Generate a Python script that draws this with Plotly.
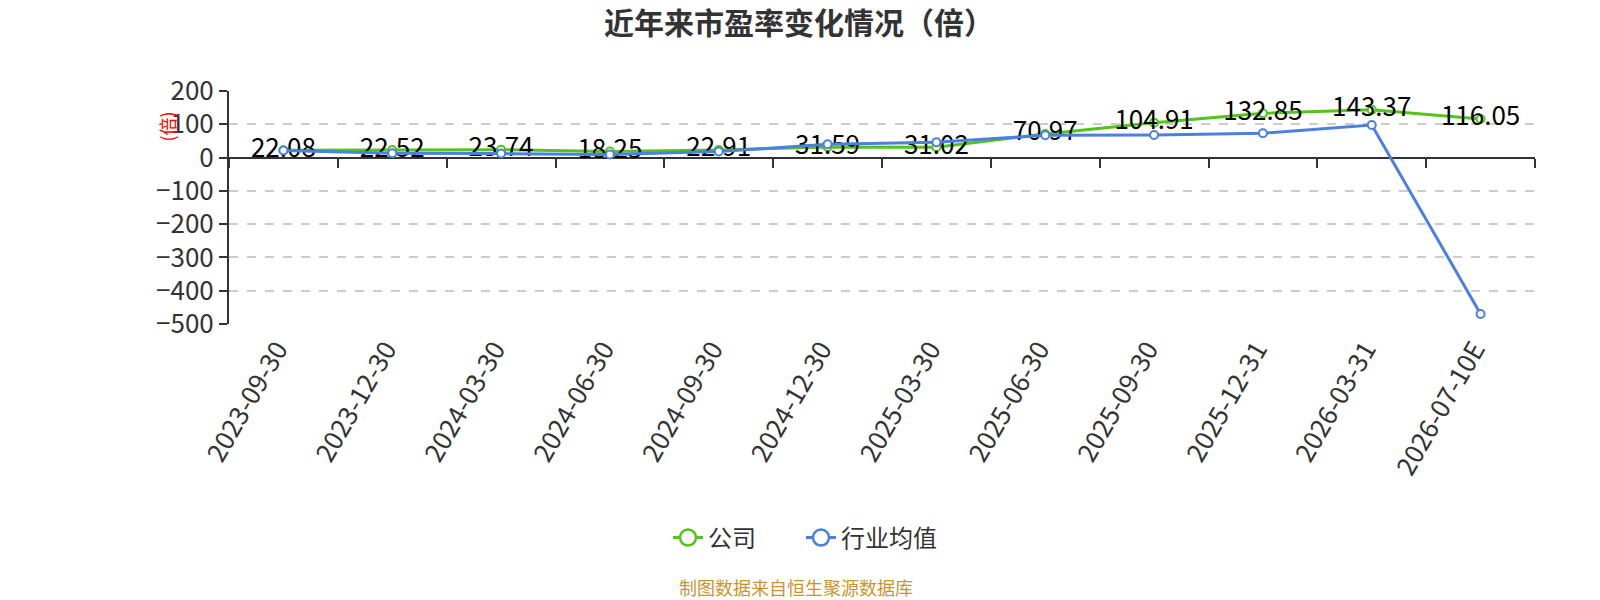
import plotly.graph_objects as go

categories = ["2023-09-30", "2023-12-30", "2024-03-30", "2024-06-30", "2024-09-30",
              "2024-12-30", "2025-03-30", "2025-06-30", "2025-09-30", "2025-12-31",
              "2026-03-31", "2026-07-10E"]
company_pe = [22.08, 22.52, 23.74, 18.25, 22.91, 31.59, 31.02, 70.97, 104.91, 132.85, 143.37, 116.05]
industry_pe = [21, 13, 12, 9, 18, 40, 46, 67, 68, 73, 98, -470]
y_ticks = [200, 100, 0, -100, -200, -300, -400, -500]
series_names = ["公司", "行业均值"]

GREEN = "#52C41A"
BLUE = "#4A80E0"
FONT = "Noto Sans CJK SC"

L, R, T, B = 229, 65, 91, 276
PW = 1600 - L - R
PH = 600 - T - B

fig = go.Figure()
fig.add_trace(go.Scatter(
    x=categories, y=company_pe, name=series_names[0], mode="lines+markers+text",
    showlegend=False,
    line=dict(color=GREEN, width=3),
    marker=dict(symbol="circle", size=8, color="white", line=dict(color=GREEN, width=2)),
    text=[f"{v:.2f}" for v in company_pe], textposition="middle center",
    textfont=dict(family=FONT, size=26, color="#000000"),
    cliponaxis=False,
))
fig.add_trace(go.Scatter(
    x=categories, y=industry_pe, name=series_names[1], mode="lines+markers",
    showlegend=False,
    line=dict(color=BLUE, width=3),
    marker=dict(symbol="circle", size=8, color="white", line=dict(color=BLUE, width=2)),
    cliponaxis=False,
))
# legend-only entries with large open circles, each in its own legend box
for nm, col, lg in zip(series_names, [GREEN, BLUE], ["legend", "legend2"]):
    fig.add_trace(go.Scatter(
        x=[None], y=[None], name=nm, mode="lines+markers", legend=lg,
        line=dict(color=col, width=3),
        marker=dict(symbol="circle", size=20, color="white", line=dict(color=col, width=2.5)),
    ))
# invisible trace on the secondary x-axis (tick marks on the zero line)
fig.add_trace(go.Scatter(x=categories, y=[None] * len(categories), xaxis="x2",
                         showlegend=False, hoverinfo="skip"))

legend_common = dict(orientation="h", xref="container", yref="container",
                     y=1 - 538 / 600, xanchor="left", yanchor="middle",
                     font=dict(family=FONT, size=24, color="#333333"),
                     itemsizing="trace", bgcolor="rgba(0,0,0,0)")

fig.update_layout(
    width=1600, height=600,
    margin=dict(l=L, r=R, t=T, b=B),
    paper_bgcolor="white", plot_bgcolor="white",
    font=dict(family=FONT, color="#333333"),
    title=dict(text="<b>近年来市盈率变化情况（倍）</b>", xref="container", x=799 / 1600,
               y=1 - 23 / 600, yanchor="middle", xanchor="center",
               font=dict(family=FONT, size=30, color="#333333")),
    showlegend=True,
    legend=dict(x=668 / 1600, **legend_common),
    legend2=dict(x=801 / 1600, **legend_common),
    xaxis=dict(type="category", range=[-0.5, len(categories) - 0.5],
               tickangle=-60, showgrid=False, zeroline=False, showline=False,
               ticks="", ticklabelstandoff=4, ticklabelshift=-6,
               tickfont=dict(family=FONT, size=26, color="#333333")),
    xaxis2=dict(type="category", overlaying="x", matches="x", anchor="free",
                position=500 / 700, side="bottom", showticklabels=False,
                showline=False, showgrid=False, zeroline=False,
                ticks="outside", ticklen=9, tickwidth=2, tickcolor="#333333",
                tickson="boundaries"),
    yaxis=dict(range=[-500, 200], tickvals=y_ticks, showline=True, linecolor="#333333",
               linewidth=2, ticks="outside", ticklen=8, tickwidth=2, tickcolor="#333333",
               showgrid=True, gridcolor="#cccccc", griddash="dash", gridwidth=1.5,
               zeroline=True, zerolinecolor="#333333", zerolinewidth=2,
               tickfont=dict(family=FONT, size=26, color="#333333")),
    annotations=[
        dict(text="(倍)", textangle=-90, xref="paper", yref="y", x=(167 - L) / PW, y=93,
             xanchor="center", yanchor="middle", showarrow=False,
             font=dict(family=FONT, size=18, color="#ff0000")),
        dict(text="制图数据来自恒生聚源数据库", xref="paper", yref="paper",
             x=(796 - L) / PW, y=-(587 - (600 - B)) / PH, xanchor="center", yanchor="middle",
             showarrow=False, font=dict(family=FONT, size=18, color="#C9952E")),
    ],
)

fig.write_html("out.html")
